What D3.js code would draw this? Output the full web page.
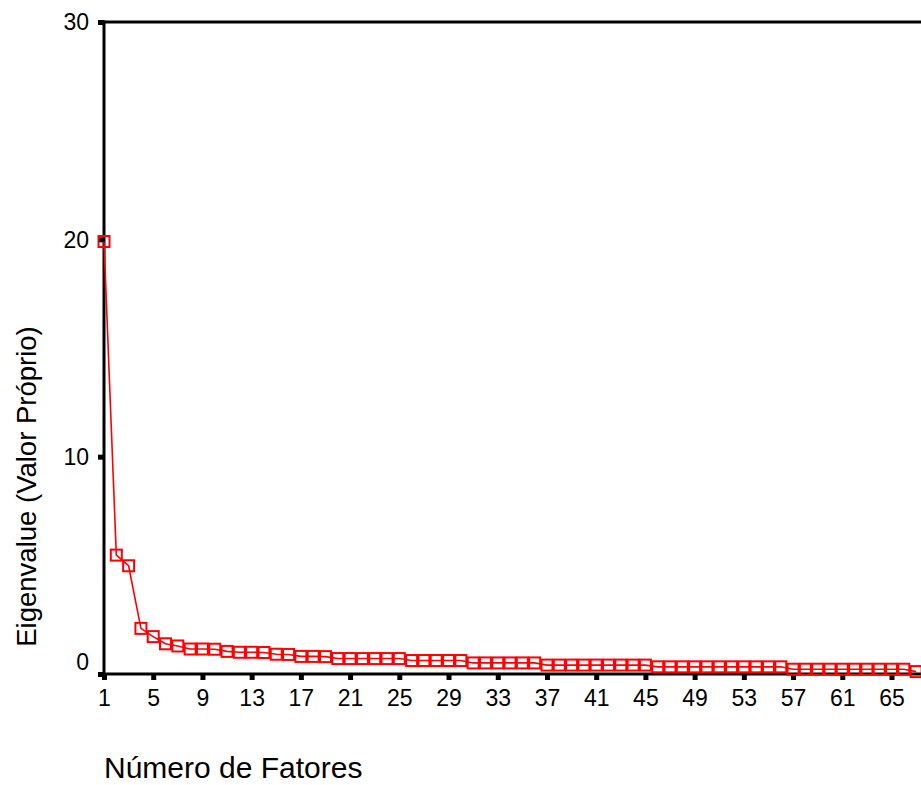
<!DOCTYPE html>
<html><head><meta charset="utf-8">
<script src="https://cdn.jsdelivr.net/npm/d3@7"></script>
<style>
body{margin:0;background:#fff}
svg{display:block}
text{font-family:"Liberation Sans",Arial,Helvetica,sans-serif;fill:#000}
</style>
</head><body>
<svg id="chart" width="921" height="785"></svg>
<script>
// Eigenvalues (scree plot), factor number = index + 1
const eigenvalues = [
  19.9, 5.47, 4.98, 2.10, 1.72, 1.39, 1.29, 1.15, 1.15, 1.14,
  1.04, 1.00, 1.00, 0.99, 0.91, 0.90, 0.81, 0.81, 0.80, 0.71,
  0.71, 0.71, 0.71, 0.71, 0.71, 0.62, 0.62, 0.62, 0.62, 0.62,
  0.51, 0.51, 0.51, 0.51, 0.51, 0.51, 0.41, 0.41, 0.41, 0.41,
  0.41, 0.41, 0.41, 0.41, 0.41, 0.33, 0.33, 0.33, 0.33, 0.33,
  0.33, 0.33, 0.33, 0.33, 0.33, 0.33, 0.22, 0.22, 0.22, 0.22,
  0.22, 0.22, 0.22, 0.22, 0.22, 0.22, 0.11
];
const xTickValues = [1, 5, 9, 13, 17, 21, 25, 29, 33, 37, 41, 45, 49, 53, 57, 61, 65];
const yTickValues = [0, 10, 20, 30];
const xTitle = "Número de Fatores";
const yTitle = "Eigenvalue (Valor Próprio)";

const data = eigenvalues.map((v, i) => ({factor: i + 1, value: v}));

const svg = d3.select("#chart");
const W = 921;

const x = d3.scaleLinear().domain([1, 65]).range([104, 891.5]);
const y = d3.scaleLinear().domain([0, 30]).range([674, 22]);

const red = "#ff0000";

// top frame line
svg.append("line")
  .attr("x1", x(1)).attr("x2", W + 5)
  .attr("y1", y(30)).attr("y2", y(30))
  .attr("stroke", "#000").attr("stroke-width", 3);

// Y axis
const yAxis = svg.append("g")
  .attr("transform", `translate(${x(1)},0)`)
  .call(d3.axisLeft(y).tickValues(yTickValues).tickSize(6).tickSizeOuter(0).tickPadding(9));
yAxis.select(".domain").remove();
yAxis.selectAll(".tick line").attr("stroke", "#000").attr("stroke-width", 5);
yAxis.selectAll(".tick text")
  .style("font-size", "23px")
  .attr("dy", d => d === 0 ? "-0.18em" : "0.34em");
svg.append("line")
  .attr("x1", x(1)).attr("x2", x(1))
  .attr("y1", y(30) - 1.5).attr("y2", y(0) + 1.5)
  .attr("stroke", "#000").attr("stroke-width", 3);

// X axis
const xAxis = svg.append("g")
  .attr("transform", `translate(0,${y(0)})`)
  .call(d3.axisBottom(x).tickValues(xTickValues).tickSize(6).tickSizeOuter(0).tickPadding(9.5));
xAxis.select(".domain").remove();
xAxis.selectAll(".tick line").attr("stroke", "#000").attr("stroke-width", 5);
xAxis.selectAll(".tick text").style("font-size", "23px");
svg.append("line")
  .attr("x1", x(1) - 6).attr("x2", W + 5)
  .attr("y1", y(0)).attr("y2", y(0))
  .attr("stroke", "#000").attr("stroke-width", 3);

// line
svg.append("path")
  .datum(data)
  .attr("fill", "none")
  .attr("stroke", red)
  .attr("stroke-width", 1.6)
  .attr("d", d3.line().x(d => x(d.factor)).y(d => y(d.value)));

// square markers
const s = 11;
svg.append("g").selectAll("rect")
  .data(data)
  .join("rect")
  .attr("x", d => x(d.factor) - s / 2)
  .attr("y", d => y(d.value) - s / 2)
  .attr("width", s).attr("height", s)
  .attr("fill", "none")
  .attr("stroke", red)
  .attr("stroke-width", 2);

// titles
svg.append("text")
  .attr("transform", "translate(36,486.5) rotate(-90)")
  .attr("text-anchor", "middle")
  .style("font-size", "27.5px")
  .text(yTitle);

svg.append("text")
  .attr("x", 104).attr("y", 778)
  .style("font-size", "30px")
  .text(xTitle);
</script>
</body></html>
